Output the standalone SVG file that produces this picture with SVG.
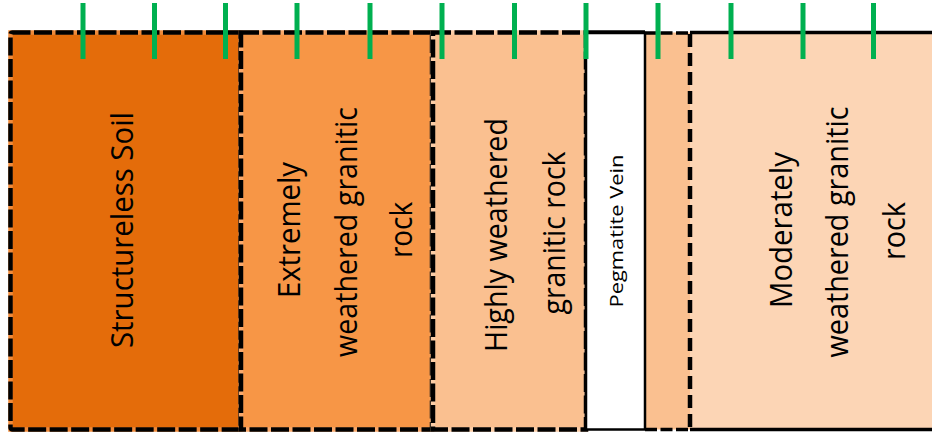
<svg xmlns="http://www.w3.org/2000/svg" width="932" height="443" viewBox="0 0 932 443">
  <style>
    .lbl { font-family: "Open Sans", "Noto Sans", "Liberation Sans", sans-serif; font-size: 31px; fill: #000; text-anchor: middle; }
    .small { font-size: 19px; }
    .edge { fill: none; stroke-width: 4.5; }
    .dash { fill: none; stroke: #000; stroke-width: 4.5; stroke-dasharray: 18 3.5; }
    .tick { stroke: #00B050; stroke-width: 5; }
  </style>

  <!-- soil layers -->
  <g id="structureless-soil">
    <rect x="10.5" y="32.5" width="230" height="397" fill="#E46C0A"/>
    <rect class="edge" x="10.5" y="32.5" width="230" height="397" stroke="#F08A3A"/>
    <rect class="dash" x="10.5" y="32.5" width="230" height="397" rx="2"/>
    <text class="lbl" transform="translate(133 230) rotate(-90)" textLength="236" lengthAdjust="spacingAndGlyphs">Structureless Soil</text>
  </g>

  <g id="extremely-weathered">
    <rect x="241" y="32.5" width="191" height="397" fill="#F79646"/>
    <rect class="edge" x="241" y="32.5" width="191" height="397" stroke="#F9A86A"/>
    <rect class="dash" x="241" y="32.5" width="191" height="397"/>
    <text class="lbl" transform="translate(300 230) rotate(-90)" textLength="136" lengthAdjust="spacingAndGlyphs">Extremely</text>
    <text class="lbl" transform="translate(357 232) rotate(-90)" textLength="250" lengthAdjust="spacingAndGlyphs">weathered granitic</text>
    <text class="lbl" transform="translate(412 230) rotate(-90)" textLength="56" lengthAdjust="spacingAndGlyphs">rock</text>
  </g>

  <g id="highly-weathered">
    <rect x="433" y="32.5" width="153" height="397" fill="#FAC090"/>
    <rect class="edge" x="433" y="32.5" width="153" height="397" stroke="#FBCDA6"/>
    <rect class="dash" x="433" y="32.5" width="153" height="397"/>
    <line x1="586" y1="32" x2="586" y2="430" stroke="#000" stroke-width="2.5"/>
    <text class="lbl" transform="translate(507 235) rotate(-90)" textLength="234" lengthAdjust="spacingAndGlyphs">Highly weathered</text>
    <text class="lbl" transform="translate(565 233) rotate(-90)" textLength="163" lengthAdjust="spacingAndGlyphs">granitic rock</text>
  </g>

  <g id="highly-weathered-strip">
    <rect x="645" y="32.5" width="45" height="397" fill="#FAC090"/>
    <line x1="645" y1="33" x2="690" y2="33" stroke="#000" stroke-width="3.5" stroke-dasharray="12 3.5"/>
    <line x1="645" y1="429.5" x2="690" y2="429.5" stroke="#000" stroke-width="3.5" stroke-dasharray="12 3.5"/>
  </g>

  <g id="moderately-weathered">
    <rect x="690" y="32.5" width="244" height="397" fill="#FCD5B5"/>
    <line x1="690" y1="32.5" x2="934" y2="32.5" stroke="#000" stroke-width="3.5"/>
    <line x1="690" y1="429.5" x2="934" y2="429.5" stroke="#000" stroke-width="3.5"/>
    <line x1="690" y1="34" x2="690" y2="430" stroke="#000" stroke-width="4.5" stroke-dasharray="13 6"/>
    <text class="lbl" transform="translate(792 230) rotate(-90)" textLength="156" lengthAdjust="spacingAndGlyphs">Moderately</text>
    <text class="lbl" transform="translate(848 232) rotate(-90)" textLength="251" lengthAdjust="spacingAndGlyphs">weathered granitic</text>
    <text class="lbl" transform="translate(905 231) rotate(-90)" textLength="58" lengthAdjust="spacingAndGlyphs">rock</text>
  </g>

  <g id="pegmatite-vein">
    <line x1="586" y1="32" x2="645" y2="32" stroke="#000" stroke-width="3.5"/>
    <rect x="586" y="33" width="59" height="396.5" fill="#FFFFFF" stroke="#000" stroke-width="2.5"/>
    <text class="lbl small" transform="translate(623 231) rotate(-90)" textLength="153" lengthAdjust="spacingAndGlyphs">Pegmatite Vein</text>
  </g>

  <!-- sampling ticks along the surface -->
  <g id="connectors">
    <line class="tick" x1="83" y1="3" x2="83" y2="59"/>
    <line class="tick" x1="154.5" y1="3" x2="154.5" y2="59"/>
    <line class="tick" x1="225.5" y1="3" x2="225.5" y2="59"/>
    <line class="tick" x1="297" y1="3" x2="297" y2="59"/>
    <line class="tick" x1="370" y1="3" x2="370" y2="59"/>
    <line class="tick" x1="442" y1="3" x2="442" y2="59"/>
    <line class="tick" x1="514.5" y1="3" x2="514.5" y2="59"/>
    <line class="tick" x1="586" y1="3" x2="586" y2="59"/>
    <line class="tick" x1="658" y1="3" x2="658" y2="59"/>
    <line class="tick" x1="731" y1="3" x2="731" y2="59"/>
    <line class="tick" x1="803" y1="3" x2="803" y2="59"/>
    <line class="tick" x1="873.5" y1="3" x2="873.5" y2="59"/>
  </g>
</svg>
